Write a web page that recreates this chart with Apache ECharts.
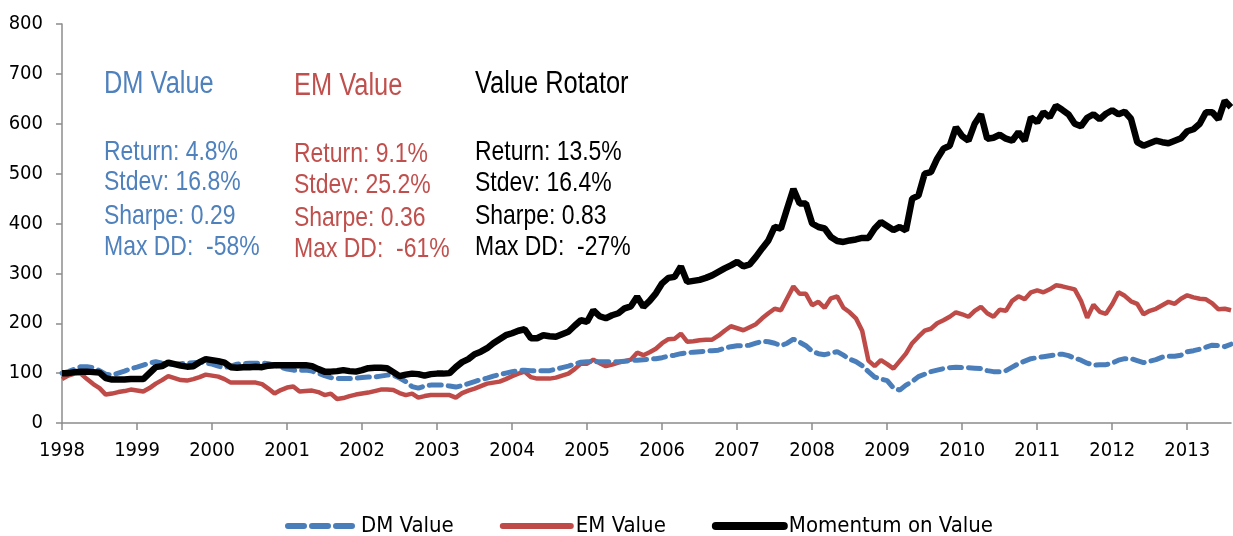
<!DOCTYPE html>
<html>
<head>
<meta charset="utf-8">
<script src="https://cdn.jsdelivr.net/npm/echarts@6/dist/echarts.min.js"></script>
<style>
html,body{margin:0;padding:0;background:#fff;}
#chart{width:1233px;height:536px;}
</style>
</head>
<body>
<div id="chart"></div>
<script>
// ---- Data (monthly, Jan 1998 .. Aug 2013) ----
const years = ['1998','1999','2000','2001','2002','2003','2004','2005','2006','2007','2008','2009','2010','2011','2012','2013'];
const monthsInLastYear = 8;
const seriesNames = ['DM Value', 'EM Value', 'Momentum on Value'];

const dmValue = [
  100,103,108,113,113,111,105,98,96,100,104,109,
  112,116,120,123,120,118,118,119,120,121,122,120,
  118,114,111,114,118,119,120,120,120,119,116,112,
  108,106,106,106,104,100,95,91,89,89,89,90,
  91,92,92,94,96,96,90,83,73,70,74,76,
  76,76,74,72,75,79,83,87,90,94,97,100,
  103,105,106,105,105,105,105,108,111,114,118,122,
  123,123,123,123,123,123,124,125,126,127,128,129,
  131,134,136,139,141,142,143,144,145,146,150,153,
  155,155,156,160,164,163,160,155,160,168,162,155,
  144,139,137,140,143,136,128,123,115,103,92,88,
  85,70,66,76,83,93,98,103,106,109,111,112,
  111,111,110,109,105,103,103,105,112,119,124,129,
  131,133,135,137,138,135,130,126,120,116,117,117,
  120,126,129,129,125,121,124,127,132,134,134,136,
  143,145,148,152,156,155,153,158
];

const emValue = [
  88,95,99,99,88,78,70,57,59,62,64,67,
  65,63,70,79,86,94,90,86,85,88,92,97,
  95,93,88,81,81,81,81,81,78,69,59,66,
  71,73,63,64,65,62,56,59,48,50,54,57,
  59,61,64,67,67,66,60,56,59,51,54,56,
  56,56,56,51,60,65,69,74,79,81,83,88,
  94,99,103,92,89,89,89,91,95,99,108,119,
  119,127,120,114,117,121,124,127,141,136,142,149,
  160,168,169,179,163,164,166,167,167,175,185,194,
  190,186,192,198,210,220,229,226,250,274,259,259,
  236,243,231,250,254,231,222,210,185,125,114,126,
  118,109,124,139,160,173,185,189,200,206,213,222,
  218,213,225,233,220,213,227,225,245,254,248,262,
  266,262,268,276,274,271,268,245,211,237,223,219,
  238,262,255,244,239,218,225,229,236,243,239,249,
  256,252,249,248,240,228,229,226
];

const momentumValue = [
  100,100,102,103,103,102,101,90,87,87,87,88,
  88,88,100,112,114,121,118,115,113,114,122,128,
  126,124,121,112,111,112,112,113,112,115,116,116,
  116,116,116,116,114,108,103,103,104,106,104,103,
  106,110,111,111,110,102,94,97,99,98,95,98,
  99,99,100,112,122,128,138,143,150,160,168,176,
  180,185,188,170,170,176,174,173,178,183,195,206,
  203,226,214,210,216,220,230,234,253,233,245,260,
  280,291,293,314,283,285,287,291,296,303,310,316,
  323,314,318,333,350,366,393,390,430,469,440,440,
  400,393,390,373,365,363,366,368,371,371,390,403,
  395,387,393,386,450,456,500,503,530,550,556,593,
  575,566,600,619,570,572,578,570,566,583,566,613,
  603,623,613,636,628,619,600,595,612,619,609,620,
  627,619,624,610,563,556,561,566,563,561,566,571,
  585,589,600,623,623,609,646,633
];

const yTicks = { min: 0, max: 800, interval: 100 };

const dmStats = ['DM Value', 'Return: 4.8%', 'Stdev: 16.8%', 'Sharpe: 0.29', 'Max DD:  -58%'];
const emStats = ['EM Value', 'Return: 9.1%', 'Stdev: 25.2%', 'Sharpe: 0.36', 'Max DD:  -61%'];
const vrStats = ['Value Rotator', 'Return: 13.5%', 'Stdev: 16.4%', 'Sharpe: 0.83', 'Max DD:  -27%'];

// ---- Build categories ----
const categories = [];
years.forEach((y, i) => {
  const n = (i === years.length - 1) ? monthsInLastYear : 12;
  for (let m = 1; m <= n; m++) categories.push(y + '-' + (m < 10 ? '0' + m : m));
});

const AXFONT = "'DejaVu Sans Condensed', 'Liberation Sans Narrow', sans-serif";
const TXFONT = "'Liberation Sans', Arial, sans-serif";
const BLUE = '#4a7ebb', RED = '#be4b48', BLACK = '#000000';
const BLUE_T = '#4f81bd', RED_T = '#c0504d';

// annotation text, drawn in Liberation Sans squeezed horizontally (narrow face)
function statTexts(lines, x, ys, color) {
  return lines.map((t, i) => ({
    type: 'text', x: x, y: ys[i], scaleX: 0.82, scaleY: 1, z: 100,
    style: {
      text: t, fill: color,
      font: (i === 0 ? '31px ' : '28px ') + TXFONT,
      textAlign: 'left', textVerticalAlign: 'middle'
    }
  }));
}

const chart = echarts.init(document.getElementById('chart'), null, { renderer: 'canvas' });
const option = {
  animation: false,
  backgroundColor: '#ffffff',
  textStyle: { fontFamily: AXFONT },
  grid: { left: 62, right: 2, top: 24, bottom: 113, containLabel: false },
  legend: {
    top: 510, left: 280,
    itemWidth: 68, itemHeight: 14, itemGap: 46,
    itemStyle: { opacity: 0 },
    textStyle: { fontFamily: AXFONT, fontSize: 22, color: '#000' },
    data: [
      { name: seriesNames[0], lineStyle: { width: 6, type: [16, 8], cap: 'round' } },
      { name: seriesNames[1], lineStyle: { width: 6, cap: 'round' } },
      { name: seriesNames[2], lineStyle: { width: 8, cap: 'round' } }
    ]
  },
  xAxis: {
    type: 'category', boundaryGap: false, data: categories,
    axisLine: { lineStyle: { color: '#8c8c8c', width: 1.5 } },
    axisTick: { inside: false, length: 7, lineStyle: { color: '#8c8c8c', width: 1.5 },
      interval: (idx) => idx % 12 === 0 },
    axisLabel: {
      interval: (idx) => idx % 12 === 0,
      formatter: (v) => v.slice(0, 4),
      fontFamily: AXFONT, fontSize: 20, color: '#000', margin: 18
    },
    splitLine: { show: false }
  },
  yAxis: {
    type: 'value', min: yTicks.min, max: yTicks.max, interval: yTicks.interval,
    axisLine: { show: true, lineStyle: { color: '#8c8c8c', width: 1.5 } },
    axisTick: { show: true, length: 6, lineStyle: { color: '#8c8c8c', width: 1.5 } },
    axisLabel: { fontFamily: AXFONT, fontSize: 20, color: '#000', margin: 19 },
    splitLine: { show: false }
  },
  series: [
    { name: seriesNames[0], type: 'line', data: dmValue, showSymbol: false, symbol: 'none', z: 3,
      lineStyle: { color: BLUE, width: 5, type: [12, 7], cap: 'round' }, itemStyle: { color: BLUE } },
    { name: seriesNames[1], type: 'line', data: emValue, showSymbol: false, symbol: 'none', z: 2,
      lineStyle: { color: RED, width: 4.5 }, itemStyle: { color: RED } },
    { name: seriesNames[2], type: 'line', data: momentumValue, showSymbol: false, symbol: 'none', z: 4,
      lineStyle: { color: BLACK, width: 6.5 }, itemStyle: { color: BLACK } }
  ],
  graphic: [].concat(
    statTexts(dmStats, 104, [84, 152, 182, 216, 247], BLUE_T),
    statTexts(emStats, 294, [86, 154, 185, 218, 249], RED_T),
    statTexts(vrStats, 475, [84, 152, 183, 216, 247], BLACK)
  )
};
chart.setOption(option);
</script>
</body>
</html>
